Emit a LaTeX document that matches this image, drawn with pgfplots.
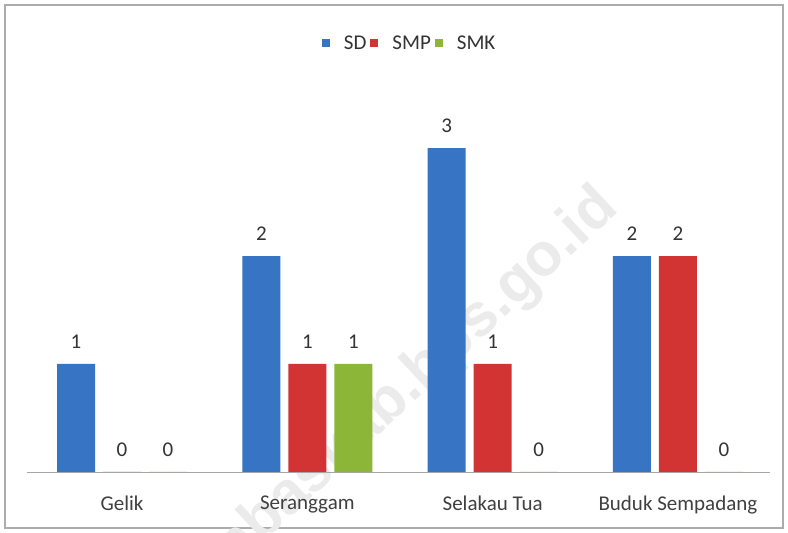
\documentclass[border=0pt]{standalone}
\usepackage{pgfplots}
\pgfplotsset{compat=1.18}
\usepackage{fontspec}
\setmainfont{Carlito}
\newfontfamily\wmfont{Liberation Sans}
\definecolor{sdc}{RGB}{56,116,196}
\definecolor{smpc}{RGB}{210,52,52}
\definecolor{smkc}{RGB}{140,182,56}
\pgfplotstableread{
x SD SMP SMK
0 1 0 0
1 2 1 1
2 3 1 0
3 2 2 0
}\datatable
\begin{document}
\begin{tikzpicture}[x=1pt,y=1pt]
\useasboundingbox (0,0) rectangle (788,533);
\fill[white] (0,0) rectangle (788,533);
\draw[gray!65, line width=1.2pt] (5,5) rectangle (783,528);
\node[rotate=43, anchor=east, text=gray!16, font=\wmfont\bfseries\fontsize{60}{60}\selectfont] at (612,336) {sambaskab.bps.go.id};
\begin{axis}[
  at={(27pt,61pt)}, anchor=south west,
  scale only axis, width=743pt, height=378pt,
  xmin=-0.513, xmax=3.497, ymin=0, ymax=3.5,
  ybar=8pt, bar width=38pt,
  axis x line*=bottom, axis y line=none,
  x axis line style={draw=gray!70, line width=0.8pt, -},
  xtick=data, xticklabels={Gelik, Seranggam, Selakau Tua, Buduk Sempadang},
  major tick length=0pt,
  xticklabel style={font=\fontsize{21}{24}\selectfont, text=black!75, yshift=-20pt},
  /pgf/number format/assume math mode=true,
  nodes near coords,
  every node near coord/.append style={font=\fontsize{21}{24}\selectfont, text=black!80, yshift=12pt},
  legend style={at={(0.515,1.135)}, anchor=center, legend columns=-1, draw=none, fill=none,
    font=\fontsize{21}{24}\selectfont, text=black!80,
    /tikz/every even column/.append style={column sep=2pt},
    /tikz/every odd column/.append style={column sep=12pt}},
  legend image code/.code={\path[#1,draw=none] (2pt,-4pt) rectangle (10pt,4pt);},
]
\addplot[draw=none, fill=sdc] table[x=x,y=SD]{\datatable};
\addplot[draw=none, fill=smpc] table[x=x,y=SMP]{\datatable};
\addplot[draw=none, fill=smkc] table[x=x,y=SMK]{\datatable};
\legend{SD, SMP, SMK}
\end{axis}
\end{tikzpicture}
\end{document}
